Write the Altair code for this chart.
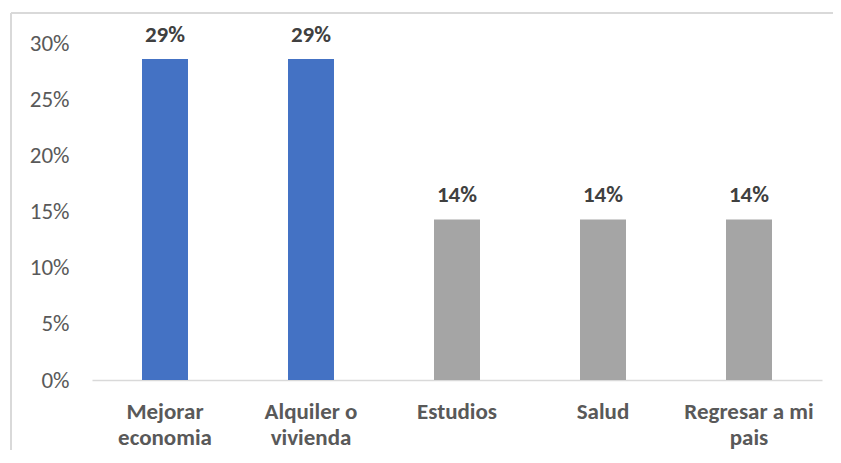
import altair as alt
import pandas as pd

categories = ["Mejorar\neconomia", "Alquiler o\nvivienda", "Estudios", "Salud", "Regresar a mi\npais"]
values = [0.2857, 0.2857, 0.1429, 0.1429, 0.1429]
colors = ["#4472C4", "#4472C4", "#A5A5A5", "#A5A5A5", "#A5A5A5"]
y_ticks = [0, 0.05, 0.10, 0.15, 0.20, 0.25, 0.30]

df = pd.DataFrame({"cat": categories, "val": values, "color": colors})

FONT = "Carlito, Lato"

x_enc = alt.X(
    "cat:N",
    sort=categories,
    title=None,
    scale=alt.Scale(paddingInner=0.685, paddingOuter=0.3425),
    axis=alt.Axis(
        labelExpr="split(datum.label, '\\n')",
        labelAngle=0,
        labelFont=FONT,
        labelFontSize=23,
        labelFontWeight="bold",
        labelColor="#595959",
        labelPadding=20,
        labelLineHeight=26,
        ticks=False,
        domainColor="#D9D9D9",
        domainWidth=1.5,
    ),
)
y_enc = alt.Y(
    "val:Q",
    title=None,
    scale=alt.Scale(domain=[0, 0.30], nice=False),
    axis=alt.Axis(
        values=y_ticks,
        format=".0%",
        labelFont=FONT,
        labelFontSize=23,
        labelColor="#595959",
        labelPadding=23,
        ticks=False,
        domain=False,
        grid=False,
    ),
)

bars = alt.Chart(df).mark_bar().encode(
    x=x_enc, y=y_enc, color=alt.Color("color:N", scale=None)
)
text = alt.Chart(df).mark_text(
    font=FONT, fontSize=23, fontWeight="bold", color="#404040",
    baseline="alphabetic", dy=-17
).encode(
    x=alt.X("cat:N", sort=categories),
    y="val:Q",
    text=alt.Text("val:Q", format=".0%"),
)
frame_top = alt.Chart(df).mark_rule(color="#D9D9D9", strokeWidth=1.5, clip=False).encode(
    x=alt.value(-81), x2=alt.value(741), y=alt.value(-30)
)
frame_left = alt.Chart(df).mark_rule(color="#D9D9D9", strokeWidth=1.5, clip=False).encode(
    x=alt.value(-81), y=alt.value(-30), y2=alt.value(412)
)

chart = alt.layer(frame_top, frame_left, bars, text).properties(
    width=730,
    height=337,
    padding={"left": 84, "top": 35, "right": 11, "bottom": 70},
    autosize=alt.AutoSizeParams(type="none"),
    background="transparent",
).configure_view(stroke=None)

chart.save("out.html", embed_options={"renderer": "svg", "actions": False})
